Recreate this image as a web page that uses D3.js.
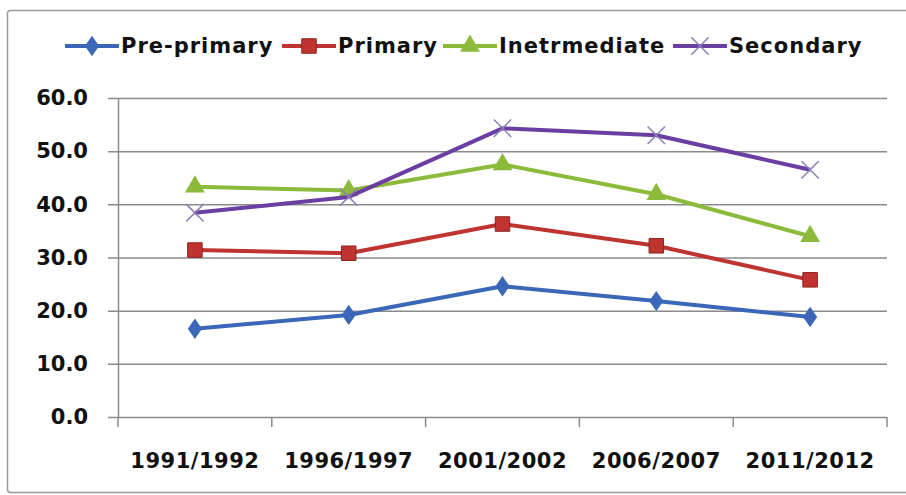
<!doctype html>
<html>
<head>
<meta charset="utf-8">
<script src="https://cdnjs.cloudflare.com/ajax/libs/d3/7.8.5/d3.min.js"></script>
<style>
  body { margin: 0; background: #fff; }
  svg text { font-family: "DejaVu Sans", Verdana, sans-serif; font-weight: bold; fill: #111; }
</style>
</head>
<body>
<svg id="chart" width="906" height="495"></svg>
<script>
// data
var years = ["1991/1992", "1996/1997", "2001/2002", "2006/2007", "2011/2012"];
var seriesNames = ["Pre-primary", "Primary", "Inetrmediate", "Secondary"];
var prePrimary = [16.6, 19.2, 24.6, 21.8, 18.8];
var primary = [31.4, 30.8, 36.3, 32.2, 25.8];
var intermediate = [43.3, 42.6, 47.5, 41.9, 34.0];
var secondary = [38.4, 41.4, 54.3, 53.0, 46.5];
var yTicks = [0, 10, 20, 30, 40, 50, 60];

var colors = ["#3a67b8", "#bf3431", "#8cba3a", "#6b3ea3"];
var shapes = ["diamond", "square", "triangle", "x"];
var allSeries = [prePrimary, primary, intermediate, secondary];

var svg = d3.select("#chart");

// outer frame
svg.append("rect")
  .attr("x", 7.5).attr("y", 10.5)
  .attr("width", 920).attr("height", 482)
  .attr("rx", 3)
  .attr("fill", "#fff")
  .attr("stroke", "#9a9a9a")
  .attr("stroke-width", 1.5);

var plotL = 118, plotR = 887, plotT = 98, plotB = 417;

var x = d3.scaleBand().domain(years).range([plotL, plotR]);
var y = d3.scaleLinear().domain([0, 60]).range([plotB, plotT]);

// gridlines
svg.append("g")
  .selectAll("line")
  .data(yTicks)
  .enter()
  .append("line")
  .attr("x1", plotL - 10)
  .attr("x2", plotR)
  .attr("y1", d => y(d) + 0.5)
  .attr("y2", d => y(d) + 0.5)
  .attr("stroke", "#8a8a8a")
  .attr("stroke-width", 1.5);

// y axis
var yAxis = d3.axisLeft(y).tickValues(yTicks).tickSize(0).tickPadding(30).tickFormat(d3.format(".1f"));
var gy = svg.append("g").attr("transform", "translate(" + plotL + ",0)").call(yAxis);
gy.select(".domain").attr("stroke", "#8a8a8a").attr("stroke-width", 1.5);
gy.selectAll("text").style("font-size", "21px").style("font-family", "DejaVu Sans").style("font-weight", "bold").attr("fill", "#111");

// x axis
var xAxis = d3.axisBottom(x).tickSize(0).tickPadding(36);
var gx = svg.append("g").attr("transform", "translate(0," + plotB + ")").call(xAxis);
gx.select(".domain").remove();
gx.selectAll("text").style("font-size", "21px").style("font-family", "DejaVu Sans").style("font-weight", "bold").attr("fill", "#111").style("letter-spacing", "0.5px");
// category boundary ticks
var bounds = years.map(d => x(d)).concat([plotR]);
svg.append("g")
  .selectAll("line")
  .data(bounds)
  .enter()
  .append("line")
  .attr("x1", d => d).attr("x2", d => d)
  .attr("y1", plotB).attr("y2", plotB + 10)
  .attr("stroke", "#8a8a8a")
  .attr("stroke-width", 1.5);

var cx = d => x(d) + x.bandwidth() / 2;

function drawMarker(g, shape, color, px, py) {
  if (shape === "diamond") {
    g.append("path").attr("d", d3.symbol().type(d3.symbolDiamond).size(120)())
      .attr("transform", "translate(" + px + "," + py + ") scale(1.2,1)")
      .attr("fill", color);
  } else if (shape === "square") {
    g.append("path").attr("d", d3.symbol().type(d3.symbolSquare).size(210)())
      .attr("transform", "translate(" + px + "," + py + ")")
      .attr("fill", color).attr("stroke", "#8a2220").attr("stroke-width", 1);
  } else if (shape === "triangle") {
    g.append("path").attr("d", d3.symbol().type(d3.symbolTriangle).size(170)())
      .attr("transform", "translate(" + px + "," + py + ")")
      .attr("fill", color);
  } else {
    g.append("path").attr("d", d3.symbol().type(d3.symbolX).size(200)())
      .attr("transform", "translate(" + px + "," + py + ")")
      .attr("fill", "none").attr("stroke", "#8a7fb8").attr("stroke-width", 1.5);
  }
}

var line = d3.line().x((d, i) => cx(years[i])).y(d => y(d));

allSeries.forEach(function(vals, s) {
  var g = svg.append("g");
  g.append("path")
    .datum(vals)
    .attr("d", line)
    .attr("fill", "none")
    .attr("stroke", colors[s])
    .attr("stroke-width", 4)
    .attr("stroke-linejoin", "round");
  vals.forEach(function(v, i) {
    drawMarker(g, shapes[s], colors[s], cx(years[i]), y(v));
  });
});

// legend
var legendX = [65, 282, 443, 673];
var legend = svg.append("g");
seriesNames.forEach(function(name, s) {
  var lx = legendX[s], ly = 46;
  legend.append("line")
    .attr("x1", lx).attr("x2", lx + 54)
    .attr("y1", ly).attr("y2", ly)
    .attr("stroke", colors[s]).attr("stroke-width", 4);
  drawMarker(legend, shapes[s], colors[s], lx + 27, ly);
  legend.append("text")
    .attr("x", lx + 56).attr("y", ly)
    .attr("dy", "0.35em")
    .style("font-size", "21px")
    .style("letter-spacing", "1px")
    .text(name);
});
</script>
</body>
</html>
